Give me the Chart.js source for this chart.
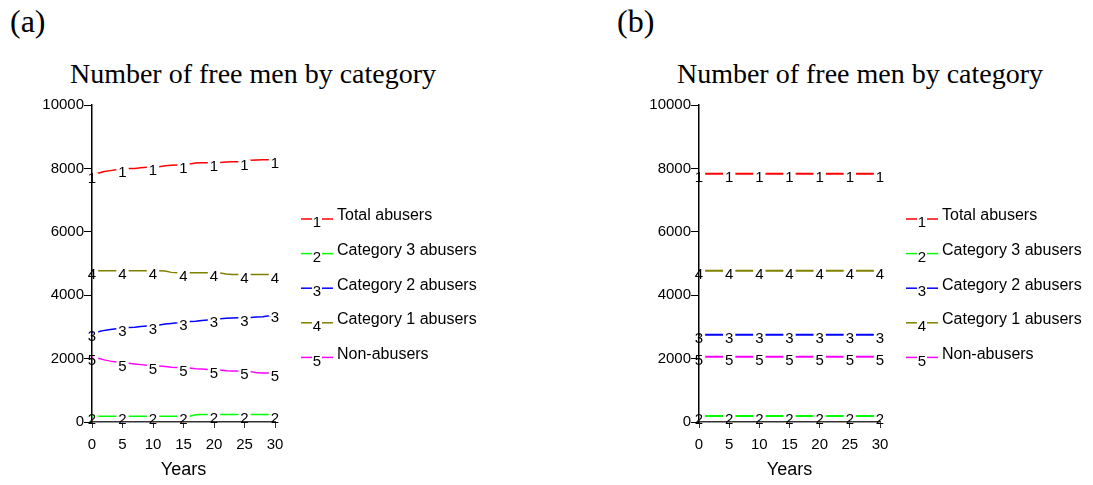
<!DOCTYPE html>
<html>
<head>
<meta charset="utf-8">
<script src="https://cdn.jsdelivr.net/npm/chart.js@4.4.1/dist/chart.umd.min.js"></script>
<style>
  body { margin: 0; background: #fff; width: 1093px; height: 485px; position: relative; overflow: hidden; }
  .panel { position: absolute; top: 3px; font: 32px "Liberation Serif", "Times New Roman", serif; line-height: 36px; }
  .title { position: absolute; top: 58px; width: 506px; text-align: center; font: 28px "Liberation Serif", "Times New Roman", serif; line-height: 31px; white-space: nowrap; }
  canvas { position: absolute; top: 0; }
</style>
</head>
<body>
<div class="panel" style="left:10px">(a)</div>
<div class="panel" style="left:617px">(b)</div>
<div class="title" style="left:0px">Number of free men by category</div>
<div class="title" style="left:607px">Number of free men by category</div>
<canvas id="chartA" width="546" height="485" style="left:0px"></canvas>
<canvas id="chartB" width="486" height="485" style="left:607px"></canvas>
<script>
// series names / colours
const seriesNames = ['Total abusers', 'Category 3 abusers', 'Category 2 abusers', 'Category 1 abusers', 'Non-abusers'];
const seriesColors = ['#ff0000', '#00ff00', '#0000ff', '#808000', '#ff00ff'];
const yTicks = [0, 2000, 4000, 6000, 8000, 10000];
const xTicks = [0, 5, 10, 15, 20, 25, 30];

// (a) yearly values, years 0..30
const yearsA = [0,1,2,3,4,5,6,7,8,9,10,11,12,13,14,15,16,17,18,19,20,21,22,23,24,25,26,27,28,29,30];
const totalA = [7790,7850,7900,7930,7960,7980,8000,8000,8020,8040,8040,8050,8080,8100,8110,8120,8140,8170,8175,8175,8180,8190,8205,8210,8210,8215,8260,8265,8270,8270,8280];
const cat3A  = [180,180,180,180,180,180,180,180,180,180,180,180,180,180,180,180,185,230,240,240,240,240,240,240,240,240,240,240,240,240,240];
const cat2A  = [2820,2850,2890,2920,2940,2960,2980,2990,3010,3030,3040,3060,3090,3110,3130,3160,3170,3180,3200,3220,3240,3260,3270,3280,3290,3290,3300,3310,3320,3350,3400];
const cat1A  = [4775,4775,4775,4775,4775,4775,4775,4775,4775,4775,4775,4770,4760,4720,4710,4710,4710,4710,4710,4710,4710,4700,4670,4650,4650,4650,4650,4650,4650,4650,4650];
const nonA   = [2040,2010,1960,1920,1890,1860,1850,1830,1810,1790,1780,1770,1750,1730,1720,1710,1700,1680,1670,1660,1650,1640,1620,1610,1605,1600,1590,1550,1545,1545,1540];

// (b) values every 5 years
const yearsB = [0, 5, 10, 15, 20, 25, 30];
const totalB = [7830, 7830, 7830, 7830, 7830, 7830, 7830];
const cat3B  = [187, 187, 187, 187, 187, 187, 187];
const cat2B  = [2750, 2750, 2750, 2750, 2750, 2750, 2750];
const cat1B  = [4775, 4775, 4775, 4775, 4775, 4775, 4775];
const nonB   = [2060, 2060, 2060, 2060, 2060, 2060, 2060];

const sans = '"Liberation Sans", Arial, sans-serif';

function makeData(years, list, lw) {
  return list.map((vals, i) => ({
    label: seriesNames[i],
    data: years.map((x, j) => ({x: x, y: vals[j]})),
    borderColor: seriesColors[i],
    backgroundColor: seriesColors[i],
    borderWidth: lw,
    pointRadius: 0,
    tension: 0
  }));
}

// numbers drawn on the lines every 5 years
const numberMarks = {
  id: 'numberMarks',
  afterDatasetsDraw(chart) {
    const ctx = chart.ctx, area = chart.chartArea;
    ctx.save();
    ctx.font = '15px ' + sans;
    ctx.textAlign = 'center';
    ctx.textBaseline = 'middle';
    chart.data.datasets.forEach((ds, i) => {
      const meta = chart.getDatasetMeta(i);
      ds.data.forEach((d, j) => {
        if (d.x % 5 !== 0) return;
        const p = meta.data[j];
        const w = ctx.measureText(String(i + 1)).width + 4;
        const x0 = Math.max(p.x - w / 2, area.left + 1);
        ctx.fillStyle = '#fff';
        ctx.fillRect(x0, p.y - 2, p.x + w / 2 - x0, 4);
        ctx.fillStyle = '#000';
        ctx.fillText(String(i + 1), p.x, p.y + 4);
      });
    });
    ctx.restore();
  }
};

// legend to the right of the plot
const sideLegend = {
  id: 'sideLegend',
  afterDraw(chart) {
    const ctx = chart.ctx, area = chart.chartArea;
    ctx.save();
    chart.data.datasets.forEach((ds, i) => {
      const y = area.top + 114 + i * 34.6;
      const x0 = area.right + 26;
      ctx.strokeStyle = ds.borderColor;
      ctx.lineWidth = 1.5;
      ctx.beginPath();
      ctx.moveTo(x0, y);
      ctx.lineTo(x0 + 32, y);
      ctx.stroke();
      ctx.fillStyle = '#fff';
      ctx.fillRect(x0 + 11, y - 2, 10, 4);
      ctx.fillStyle = '#000';
      ctx.font = '15px ' + sans;
      ctx.textAlign = 'center';
      ctx.textBaseline = 'middle';
      ctx.fillText(String(i + 1), x0 + 16, y + 4);
      ctx.font = '16px ' + sans;
      ctx.textAlign = 'left';
      ctx.fillText(ds.label, x0 + 36, y - 3);
    });
    ctx.restore();
  }
};

function makeChart(id, years, list, rightPad, lw) {
  return new Chart(document.getElementById(id), {
    type: 'line',
    data: { datasets: makeData(years, list, lw) },
    plugins: [numberMarks, sideLegend],
    options: {
      responsive: false,
      animation: false,
      layout: { padding: { top: 105, right: rightPad, left: 0, bottom: 0 } },
      plugins: { legend: { display: false }, tooltip: { enabled: false } },
      scales: {
        x: {
          type: 'linear', min: 0, max: 30,
          afterBuildTicks: s => { s.ticks = xTicks.map(v => ({value: v})); },
          afterFit: s => { s.height = 63; },
          border: { color: '#333', width: 1.5 },
          grid: { drawOnChartArea: false, color: '#333', tickLength: 6 },
          ticks: { color: '#000', font: { size: 15, family: sans }, padding: 8, maxRotation: 0, callback: v => String(v) },
          title: { display: true, text: 'Years', color: '#000', font: { size: 18, family: sans }, padding: { top: 0, bottom: 4 } }
        },
        y: {
          min: 0, max: 10000,
          afterBuildTicks: s => { s.ticks = yTicks.map(v => ({value: v})); },
          afterFit: s => { s.width = 92; },
          border: { color: '#000', width: 1.5 },
          grid: { drawOnChartArea: false, color: '#000', tickLength: 8 },
          ticks: { color: '#000', font: { size: 15, family: sans }, padding: 0, callback: v => String(v) }
        }
      }
    }
  });
}

makeChart('chartA', yearsA, [totalA, cat3A, cat2A, cat1A, nonA], 546 - 275, 1.5);
makeChart('chartB', yearsB, [totalB, cat3B, cat2B, cat1B, nonB], 486 - 273, 2);
</script>
</body>
</html>
